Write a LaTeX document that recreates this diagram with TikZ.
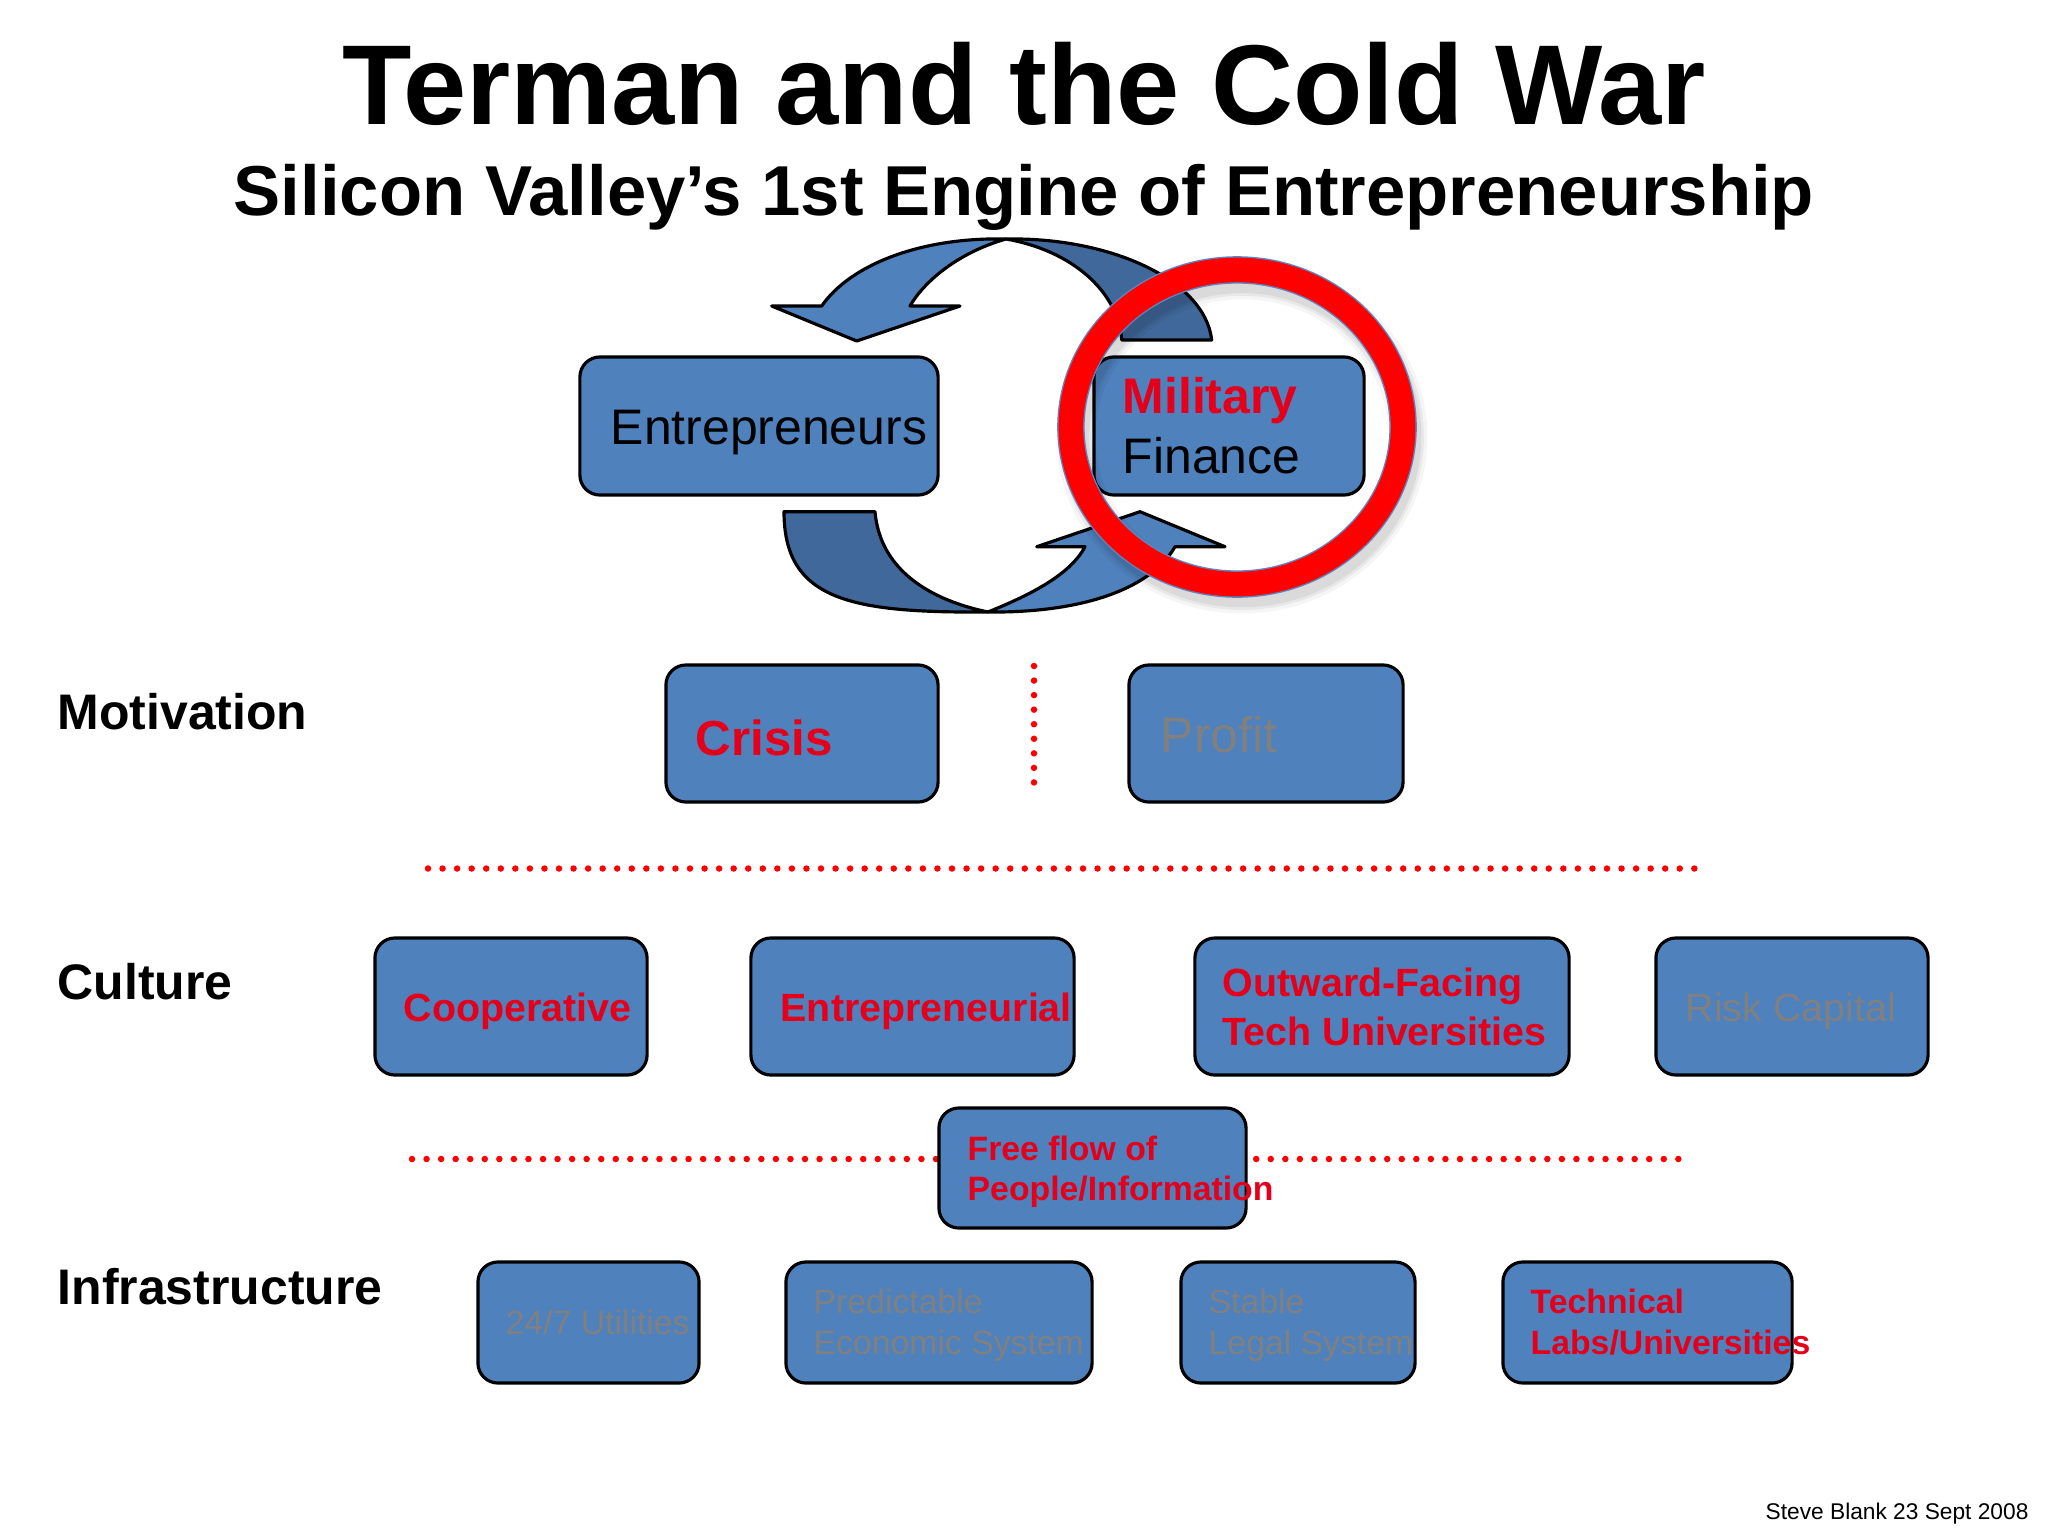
\documentclass[tikz,border=0pt]{standalone}
\usepackage{fontspec}
\setmainfont{Liberation Sans}
\definecolor{boxblue}{RGB}{79,129,189}
\definecolor{darkblue}{RGB}{64,104,154}
\definecolor{txtred}{RGB}{228,0,27}
\definecolor{ringred}{RGB}{255,0,0}
\definecolor{ringedge}{RGB}{90,135,195}
\definecolor{fadetxt}{RGB}{128,128,128}
\begin{document}
\begin{tikzpicture}[x=0.01cm,y=-0.01cm,
  box/.style={draw=black,line width=0.9pt,fill=boxblue,rounded corners=0.2cm,inner sep=0pt},
  lbl/.style={anchor=base west,inner sep=0pt},
  ribbonlight/.style={draw=black,line width=0.9pt,fill=boxblue,line join=round},
  ribbondark/.style={draw=black,line width=0.9pt,fill=darkblue,line join=round},
  dotline/.style={draw=ringred,line width=1.85pt,line cap=round,dash pattern=on 0pt off 4.139pt},
  big/.style={font=\fontsize{14.2}{17}\selectfont},
  mid/.style={font=\fontsize{11.2}{13.5}\selectfont},
  small/.style={font=\fontsize{9.6}{11.5}\selectfont}
]
\useasboundingbox[fill=white] (0,0) rectangle (2048,1536);

% titles
\node[anchor=base,inner sep=0pt,font=\fontsize{32.3}{38}\selectfont\bfseries] (title) at (1024,124) {Terman and the Cold War};
\node[anchor=base,inner sep=0pt,font=\fontsize{20.1}{24}\selectfont\bfseries] (subtitle) at (1024,215.5) {Silicon Valley’s 1st Engine of Entrepreneurship};

% cycle arrows
\draw[ribbondark] (1006,239) .. controls (1110,237) and (1205,280) .. (1211.7,340) -- (1121.7,340) .. controls (1118,290) and (1070,250) .. (1006,239) -- cycle;
\draw[ribbonlight] (856.7,341) -- (771.7,306) -- (821.7,306) .. controls (850,265) and (920,237) .. (1006,239) .. controls (960,252) and (925,280) .. (910,306) -- (960,306) -- cycle;
\draw[ribbondark] (784,511.7) .. controls (784,600) and (850,613) .. (988,612) .. controls (930,600) and (880,570) .. (875,511.7) -- cycle;
\draw[ribbonlight] (988,612) .. controls (1080,613) and (1150,590) .. (1175,546.7) -- (1225,546.7) -- (1140,511.7) -- (1036.7,546.7) -- (1085,546.7) .. controls (1070,575) and (1030,595) .. (988,612) -- cycle;

% top boxes
\node[box,minimum width=3.58cm,minimum height=1.38cm] (entr) at (759,426) {};
\node[box,minimum width=2.70cm,minimum height=1.38cm] (mil) at (1229,426) {};

% ring with shadow
\foreach \w/\o in {11/0.04,9/0.05,7.5/0.06}{
  \draw[black,opacity=\o,line width=\w pt] (1242,437) ellipse [x radius=1.66cm,y radius=1.57cm];
}
\draw[ringedge,line width=7.8pt] (1237,427) ellipse [x radius=1.66cm,y radius=1.57cm];
\draw[ringred,line width=7.0pt] (1237,427) ellipse [x radius=1.66cm,y radius=1.57cm];

\node[lbl,big] (entrtxt) at (610,444) {Entrepreneurs};
\node[lbl,big,font=\fontsize{14.2}{17}\selectfont\bfseries,text=txtred] (miltxt) at (1122,413) {Military};
\node[lbl,big] (fintxt) at (1122,473) {Finance};

% row labels
\node[lbl,font=\fontsize{14.2}{17}\selectfont\bfseries] (motiv) at (57,729) {Motivation};
\node[lbl,font=\fontsize{14.2}{17}\selectfont\bfseries] (cult) at (57,999) {Culture};
\node[lbl,font=\fontsize{14.2}{17}\selectfont\bfseries] (infra) at (57,1304) {Infrastructure};

% motivation row
\coordinate (vtop) at (1034,666);
\coordinate (vbot) at (1034,790);
\draw[dotline] (vtop) -- (vbot);
\node[box,minimum width=2.72cm,minimum height=1.37cm] (crisis) at (802,733.5) {};
\node[box,minimum width=2.74cm,minimum height=1.37cm] (profit) at (1266,733.5) {};
\node[lbl,font=\fontsize{14}{17}\selectfont\bfseries,text=txtred] (crisistxt) at (695,755) {Crisis};
\node[lbl,big,text=fadetxt] (profittxt) at (1160,752) {Profit};

% separator 1
\coordinate (s1a) at (428,868.5);
\coordinate (s1b) at (1708,868.5);
\draw[dotline] (s1a) -- (s1b);

% culture row
\node[box,minimum width=2.72cm,minimum height=1.37cm] (coop) at (511,1006.5) {};
\node[box,minimum width=3.23cm,minimum height=1.37cm] (entl) at (912.5,1006.5) {};
\node[box,minimum width=3.74cm,minimum height=1.37cm] (outw) at (1382,1006.5) {};
\node[box,minimum width=2.72cm,minimum height=1.37cm] (risk) at (1792,1006.5) {};
\node[lbl,font=\fontsize{11.2}{13.5}\selectfont\bfseries,text=txtred] (cooptxt) at (403,1021) {Cooperative};
\node[lbl,font=\fontsize{11.2}{13.5}\selectfont\bfseries,text=txtred] (entltxt) at (780,1021) {Entrepreneurial};
\node[lbl,font=\fontsize{11.2}{13.5}\selectfont\bfseries,text=txtred] (outwtxt1) at (1222,996.5) {Outward-Facing};
\node[lbl,font=\fontsize{11.2}{13.5}\selectfont\bfseries,text=txtred] (outwtxt2) at (1222,1045) {Tech Universities};
\node[lbl,mid,text=fadetxt] (risktxt) at (1685,1021) {Risk Capital};

% separator 2 with free flow box
\coordinate (s2a) at (412,1159);
\coordinate (s2b) at (1692,1159);
\draw[dotline] (s2a) -- (s2b);
\node[box,minimum width=3.07cm,minimum height=1.20cm] (free) at (1092.5,1168) {};
\node[lbl,font=\fontsize{9.6}{11.5}\selectfont\bfseries,text=txtred] (freetxt1) at (967,1160) {Free flow of};
\node[lbl,font=\fontsize{9.6}{11.5}\selectfont\bfseries,text=txtred] (freetxt2) at (967,1200) {People/Information};

% infrastructure row
\node[box,minimum width=2.21cm,minimum height=1.21cm] (util) at (588.5,1322.5) {};
\node[box,minimum width=3.06cm,minimum height=1.21cm] (econ) at (939,1322.5) {};
\node[box,minimum width=2.34cm,minimum height=1.21cm] (legal) at (1298,1322.5) {};
\node[box,minimum width=2.89cm,minimum height=1.21cm] (tech) at (1647.5,1322.5) {};
\node[lbl,small,text=fadetxt] (utiltxt) at (505,1334) {24/7 Utilities};
\node[lbl,small,text=fadetxt] (econtxt1) at (813,1313) {Predictable};
\node[lbl,small,text=fadetxt] (econtxt2) at (813,1354) {Economic System};
\node[lbl,small,text=fadetxt] (legaltxt1) at (1208,1313) {Stable};
\node[lbl,small,text=fadetxt] (legaltxt2) at (1208,1354) {Legal System};
\node[lbl,font=\fontsize{9.6}{11.5}\selectfont\bfseries,text=txtred] (techtxt1) at (1530,1313) {Technical};
\node[lbl,font=\fontsize{9.6}{11.5}\selectfont\bfseries,text=txtred] (techtxt2) at (1530,1354) {Labs/Universities};

% footer
\node[lbl,font=\fontsize{6.46}{8}\selectfont] (footer) at (1765,1519) {Steve Blank 23 Sept 2008};
\end{tikzpicture}
\end{document}
